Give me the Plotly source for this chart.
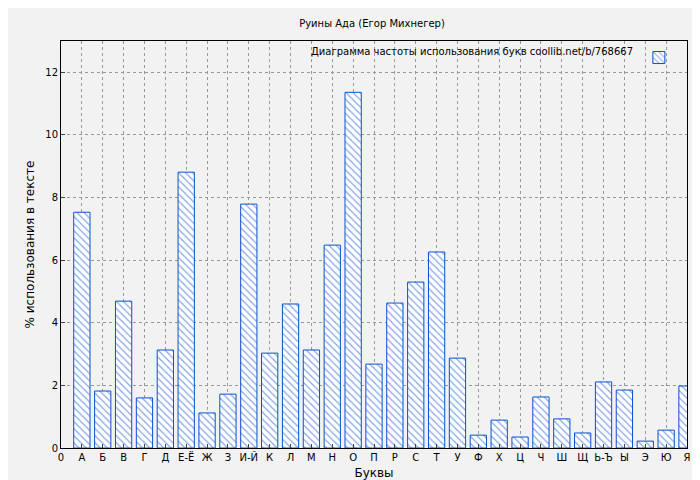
import plotly.graph_objects as go

letters = ["А", "Б", "В", "Г", "Д", "Е-Ё", "Ж", "З", "И-Й", "К", "Л", "М", "Н", "О", "П",
           "Р", "С", "Т", "У", "Ф", "Х", "Ц", "Ч", "Ш", "Щ", "Ь-Ъ", "Ы", "Э", "Ю", "Я"]
freq = [7.53, 1.82, 4.69, 1.60, 3.13, 8.81, 1.12, 1.72, 7.79, 3.03, 4.60, 3.13, 6.48, 11.36, 2.68,
        4.63, 5.30, 6.26, 2.87, 0.41, 0.89, 0.35, 1.63, 0.93, 0.48, 2.11, 1.85, 0.22, 0.57, 1.98]
positions = list(range(1, len(letters) + 1))
tick_vals = [0] + positions
tick_text = ["0"] + letters

blue = "#0b50d0"

fig = go.Figure()
fig.add_trace(go.Bar(
    x=positions, y=freq, width=0.78, name="",
    marker=dict(color="white", line=dict(color=blue, width=1),
                pattern=dict(shape="\\", fgcolor=blue, bgcolor="white", size=5, solidity=0.25)),
    showlegend=True,
))

fig.update_layout(
    width=700, height=480,
    paper_bgcolor="#f2f2f2", plot_bgcolor="#f2f2f2",
    margin=dict(l=53, r=21, t=33, b=40, autoexpand=False),
    font=dict(family="DejaVu Sans", size=10, color="black"),
    title=dict(text="Руины Ада (Егор Михнегер)", x=0.52, y=0.975, xanchor="center",
               font=dict(size=10)),
    legend=dict(x=0.995, y=0.995, xanchor="right", yanchor="top", bgcolor="rgba(0,0,0,0)",
                font=dict(size=1), itemwidth=30),
)
fig.add_annotation(text="Диаграмма частоты использования букв coollib.net/b/768667",
                   xref="paper", yref="paper", x=0.917, y=0.993, xanchor="right", yanchor="top",
                   showarrow=False, font=dict(size=10))
fig.update_xaxes(range=[0, 30], tickmode="array", tickvals=tick_vals, ticktext=tick_text,
                 showgrid=True, gridcolor="#999", griddash="dot", gridwidth=1, automargin=False,
                 showline=True, linecolor="black", mirror=True, ticks="inside", ticklen=4,
                 title=dict(text="Буквы", standoff=6), zeroline=False)
fig.update_yaxes(range=[0, 13], tickvals=[0, 2, 4, 6, 8, 10, 12], automargin=False,
                 showgrid=True, gridcolor="#999", griddash="dot", gridwidth=1,
                 showline=True, linecolor="black", mirror=True, ticks="inside", ticklen=4,
                 title=dict(text="% использования в тексте", standoff=8), zeroline=False)

fig.write_html("out.html")
